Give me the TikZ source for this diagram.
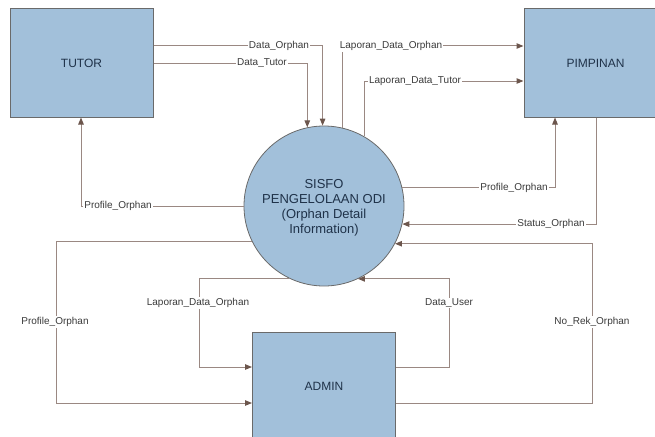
\documentclass[tikz,border=0pt]{standalone}
\usepackage{fontspec}
\setmainfont{Liberation Sans}
\usetikzlibrary{arrows.meta}
\definecolor{boxfill}{HTML}{A2C0DA}
\definecolor{boxline}{HTML}{6A6A6A}
\definecolor{flowc}{HTML}{9A8882}
\definecolor{tipc}{HTML}{6C564D}
\definecolor{boxtext}{HTML}{1F3249}
\definecolor{lbltext}{HTML}{3A3A3A}
\tikzset{
  entity/.style={draw=boxline, line width=1pt, fill=boxfill, minimum width=143pt, minimum height=108pt, inner sep=0pt, font=\fontsize{12}{14}\selectfont, text=boxtext},
  proc/.style={draw=boxline, line width=0.8pt, fill=boxfill, circle, minimum size=160pt, inner sep=0pt, align=center, font=\fontsize{13}{15}\selectfont, text=boxtext},
  flow/.style={draw=flowc, line width=1pt, -{Triangle[length=7pt,width=5.5pt,color=tipc]}},
  lbl/.style={fill=white, inner sep=1pt, font=\fontsize{10}{12}\selectfont, text=lbltext}
}
\begin{document}
\begin{tikzpicture}[x=1pt,y=-1pt]
\useasboundingbox (0,0) rectangle (655,436);
\node[entity] (tutor) at (81.5,63) {TUTOR};
\node[entity] (pim) at (595.5,63) {PIMPINAN};
\node[entity] (admin) at (324,386) {ADMIN};
\node[proc] (c) at (324,206) {};
\node[align=center, font=\fontsize{13}{15}\selectfont, text=boxtext, inner sep=0pt] (ct) at (324,207.5) {SISFO\\PENGELOLAAN ODI\\(Orphan Detail\\Information)};

\draw[flow] (tutor.east |- 0,46) -| (c.91);
\draw[flow] (tutor.east |- 0,63) -| (c.102.3);
\draw[flow] (c.77) |- (pim.west |- 0,46);
\draw[flow] (c.60.8) |- (pim.west |- 0,81);
\draw[flow] (c.13) -| (pim.south -| 555,0);
\draw[flow] (pim.south -| 596,0) |- (c.347);
\draw[flow] (admin.east |- 0,403) -| (592,0 |- c.332.5) -- (c.332.5);
\draw[flow] (admin.east |- 0,367) -| (449,0 |- c.295.8) -- (c.295.8);
\draw[flow] (c.244.2) -- (199,0 |- c.244.2) |- (admin.west |- 0,367);
\draw[flow] (c.206.7) -- (56,0 |- c.206.7) |- (admin.west |- 0,403);
\draw[flow] (c.180) -| (tutor.south -| 81,0);

\node[lbl] (l1) at (279,46) {Data\_Orphan};
\node[lbl] (l2) at (262,63) {Data\_Tutor};
\node[lbl] (l3) at (391,46) {Laporan\_Data\_Orphan};
\node[lbl] (l4) at (415,81) {Laporan\_Data\_Tutor};
\node[lbl] (l5) at (514,188) {Profile\_Orphan};
\node[lbl] (l6) at (551,224) {Status\_Orphan};
\node[lbl] (l7) at (118,206) {Profile\_Orphan};
\node[lbl] (l8) at (55,322) {Profile\_Orphan};
\node[lbl] (l9) at (198,303) {Laporan\_Data\_Orphan};
\node[lbl] (l10) at (449,303) {Data\_User};
\node[lbl] (l11) at (592,322) {No\_Rek\_Orphan};
\end{tikzpicture}
\end{document}
